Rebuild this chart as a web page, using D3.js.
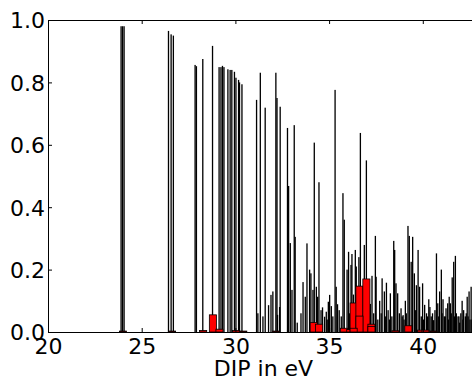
<!DOCTYPE html>
<html lang="en">
<head>
    <meta charset="UTF-8">
    <title>DIP spectrum</title>
    <script src="https://d3js.org/d3.v7.min.js"></script>
    <style>
        body { margin: 0; background: #fff; }
        svg { display: block; }
        .axis text { font-family: "DejaVu Sans", sans-serif; font-size: 22px; fill: #000; }
        .axis path, .axis line { stroke: #000; stroke-width: 1; }
    </style>
</head>
<body>
<div id="chart"></div>
<script>
    // stick spectrum: energies (eV) and intensities
    const stickEnergy = [
        23.90, 23.98, 24.06, 26.43, 26.57, 26.69, 27.85, 27.92, 28.26, 28.78,
        29.13, 29.23, 29.31, 29.39, 29.60, 29.72, 29.81, 29.95, 30.03, 30.17,
        30.22, 30.35, 31.13, 31.20, 31.33, 31.47, 31.59, 31.77, 31.90, 32.00,
        32.16, 32.22, 32.25, 32.36, 32.39, 32.78, 32.84, 32.93, 33.02, 33.14,
        33.19, 33.30, 33.50, 33.61, 33.73, 33.82, 33.96, 34.03, 34.14, 34.21,
        34.32, 34.39, 34.46, 34.57, 34.65, 34.76, 34.85, 34.90, 34.96, 35.03,
        35.12, 35.20, 35.32, 35.38, 35.45, 35.54, 35.65, 35.74, 35.81, 35.96,
        36.04, 36.10, 36.17, 36.22, 36.30, 36.40, 36.45, 36.59, 36.67, 36.80,
        36.88, 36.99, 37.10, 37.20, 37.29, 37.38, 37.47, 37.51, 37.60, 37.70,
        37.83, 37.95, 38.06, 38.15, 38.27, 38.35, 38.45, 38.50, 38.57, 38.66,
        38.75, 38.84, 38.95, 39.00, 39.07, 39.21, 39.28, 39.38, 39.46, 39.55,
        39.66, 39.75, 39.83, 39.92, 39.99, 40.10, 40.20, 40.32, 40.45, 40.58,
        40.65, 40.73, 40.80, 40.90, 40.99, 41.08, 41.15, 41.24, 41.33, 41.41,
        41.47, 41.57, 41.65, 41.74, 41.79, 41.88, 41.97, 42.03, 42.10, 42.18,
        42.27, 42.37, 42.47, 42.52, 42.58,
        37.02, 37.78, 38.00, 38.22, 38.90, 39.12, 39.60, 40.03, 40.26, 40.38,
        40.52, 40.85, 41.03, 41.20, 41.37, 41.52, 41.70, 41.93, 42.14, 42.32,
        42.42, 42.62
    ];
    const stickHeight = [
        0.980, 0.980, 0.980, 0.965, 0.954, 0.950, 0.856, 0.852, 0.875, 0.917,
        0.849, 0.849, 0.853, 0.849, 0.842, 0.840, 0.840, 0.834, 0.815, 0.808,
        0.800, 0.794, 0.744, 0.060, 0.831, 0.050, 0.719, 0.086, 0.119, 0.130,
        0.831, 0.750, 0.055, 0.080, 0.722, 0.654, 0.468, 0.285, 0.135, 0.663,
        0.305, 0.030, 0.060, 0.160, 0.113, 0.284, 0.200, 0.188, 0.135, 0.607,
        0.145, 0.113, 0.480, 0.070, 0.079, 0.049, 0.065, 0.040, 0.097, 0.119,
        0.083, 0.050, 0.776, 0.145, 0.089, 0.070, 0.050, 0.445, 0.360, 0.200,
        0.257, 0.060, 0.215, 0.250, 0.120, 0.263, 0.210, 0.240, 0.638, 0.100,
        0.279, 0.550, 0.050, 0.090, 0.180, 0.060, 0.308, 0.177, 0.040, 0.100,
        0.172, 0.130, 0.158, 0.070, 0.124, 0.050, 0.292, 0.263, 0.156, 0.124,
        0.060, 0.076, 0.054, 0.040, 0.100, 0.340, 0.308, 0.225, 0.305, 0.188,
        0.150, 0.263, 0.145, 0.050, 0.156, 0.087, 0.060, 0.105, 0.050, 0.038,
        0.070, 0.252, 0.092, 0.130, 0.200, 0.105, 0.050, 0.076, 0.092, 0.113,
        0.092, 0.175, 0.225, 0.244, 0.060, 0.050, 0.030, 0.060, 0.100, 0.070,
        0.050, 0.113, 0.130, 0.040, 0.145,
        0.040, 0.060, 0.050, 0.040, 0.050, 0.060, 0.070, 0.040, 0.050, 0.080,
        0.060, 0.050, 0.060, 0.050, 0.040, 0.060, 0.050, 0.050, 0.040, 0.060,
        0.050, 0.040
    ];

    // red histogram bars (centre in eV, height); later entries sit on top
    const binCenter = [
        24.00, 26.62, 28.28, 28.80, 29.15, 30.04, 30.42, 32.18, 34.18, 34.47,
        35.79, 36.13, 36.31, 36.62, 36.99, 37.26, 38.54, 39.23, 39.91, 40.14,
        40.57, 36.62, 36.31, 37.26
    ];
    const binHeight = [
        0.003, 0.003, 0.005, 0.055, 0.009, 0.005, 0.003, 0.003, 0.030, 0.025,
        0.012, 0.008, 0.093, 0.147, 0.170, 0.025, 0.004, 0.020, 0.006, 0.006,
        0.003, 0.051, 0.012, 0.018
    ];
    const binWidth = 0.38;
    const stickWidth = 0.07;

    const xTicks = [20, 25, 30, 35, 40];
    const yTicks = [0, 0.2, 0.4, 0.6, 0.8, 1.0];

    const width = 472, height = 378;
    const svg = d3.select("#chart").append("svg")
        .attr("width", width).attr("height", height);

    const x = d3.scaleLinear().domain([20, 43]).range([48, 479]);
    const y = d3.scaleLinear().domain([0, 1]).range([332, 20]);

    // sticks
    svg.append("g").selectAll("rect")
        .data(stickEnergy)
        .join("rect")
        .attr("x", d => x(d - stickWidth / 2))
        .attr("width", x(20 + stickWidth) - x(20))
        .attr("y", (d, i) => y(stickHeight[i]))
        .attr("height", (d, i) => y(0) - y(stickHeight[i]))
        .attr("fill", "#000");

    // red bars
    svg.append("g").selectAll("rect")
        .data(binCenter)
        .join("rect")
        .attr("x", d => x(d - binWidth / 2))
        .attr("width", x(20 + binWidth) - x(20))
        .attr("y", (d, i) => y(binHeight[i]))
        .attr("height", (d, i) => y(0) - y(binHeight[i]))
        .attr("fill", "#ff0000")
        .attr("stroke", "#000")
        .attr("stroke-width", 0.8);

    // axes, ticks pointing inward
    svg.append("g").attr("class", "axis")
        .attr("transform", `translate(0,${y(0)})`)
        .call(d3.axisBottom(x).tickValues(xTicks).tickSize(-4).tickSizeOuter(0).tickPadding(6));

    svg.append("g").attr("class", "axis")
        .attr("transform", `translate(0,${y(1)})`)
        .call(d3.axisTop(x).tickValues(xTicks).tickSize(-4).tickSizeOuter(0).tickFormat(""));

    svg.append("g").attr("class", "axis")
        .attr("transform", `translate(${x(20)},0)`)
        .call(d3.axisLeft(y).tickValues(yTicks).tickSize(-4).tickSizeOuter(0)
            .tickPadding(3).tickFormat(d3.format(".1f")))
        .selectAll("text").attr("dy", "0.36em");

    svg.append("text")
        .attr("x", (x(20) + x(43)) / 2)
        .attr("y", 376)
        .attr("text-anchor", "middle")
        .style("font-family", "'DejaVu Sans', sans-serif")
        .style("font-size", "22px")
        .text("DIP in eV");
</script>
</body>
</html>
